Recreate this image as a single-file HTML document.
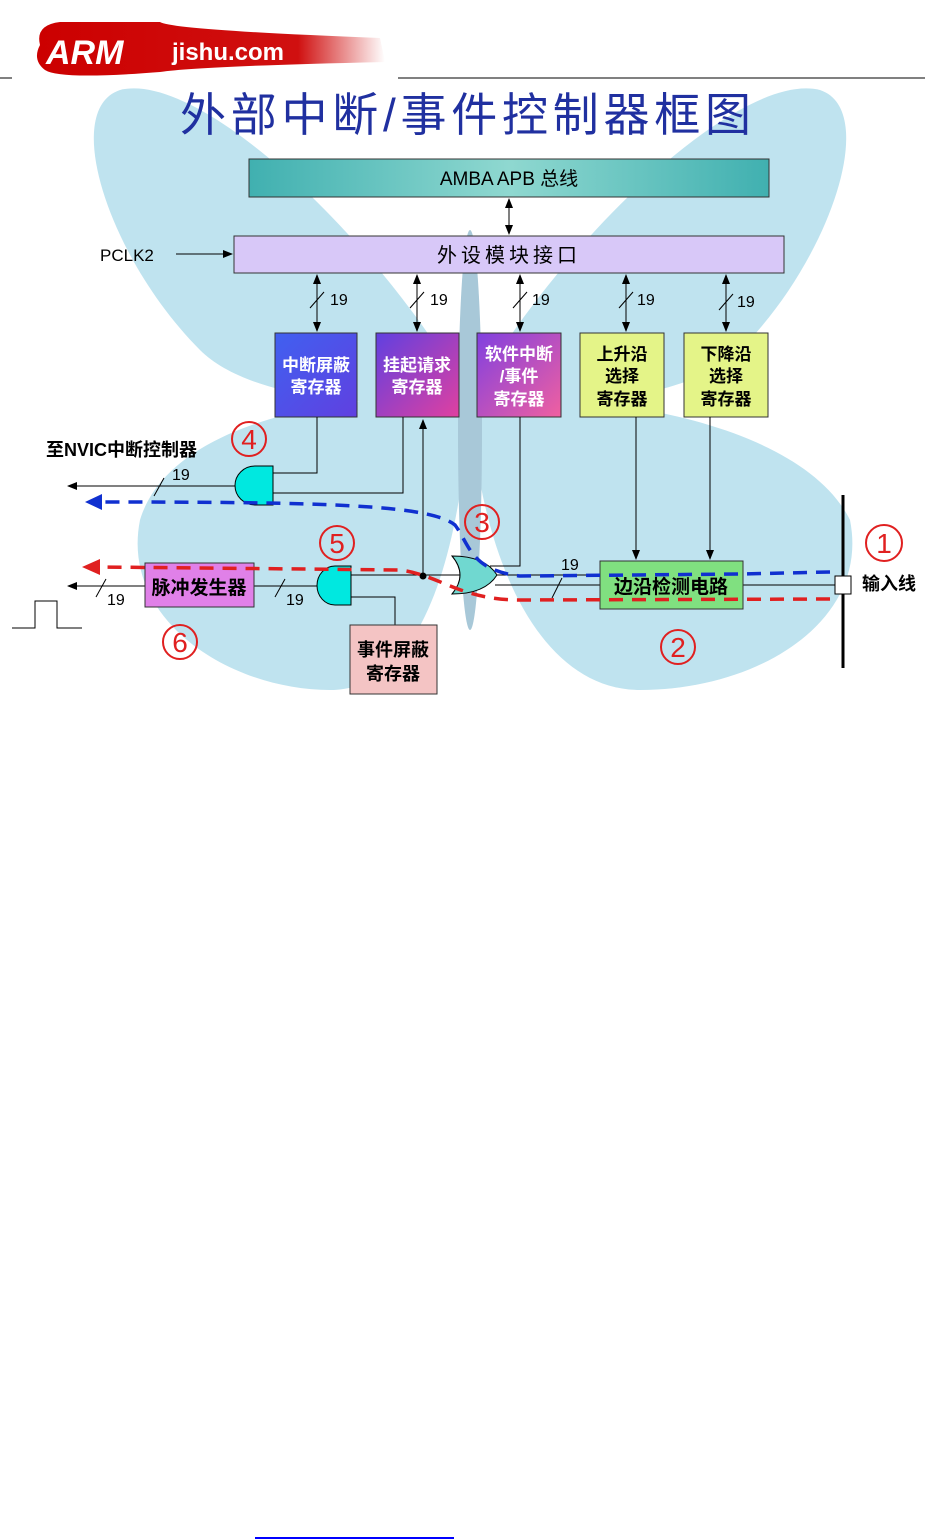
<!DOCTYPE html>
<html><head><meta charset="utf-8"><style>
body{margin:0;width:925px;height:1540px;background:#fff;position:relative;overflow:hidden}
svg text{font-family:"Liberation Sans","Noto Sans CJK SC",sans-serif}
</style></head><body>
<svg width="925" height="1540" xmlns="http://www.w3.org/2000/svg" style="position:absolute;left:0;top:0">
<defs>
<linearGradient id="amba" x1="0" x2="1"><stop offset="0" stop-color="#40b0b0"/><stop offset=".5" stop-color="#8fd8d0"/><stop offset="1" stop-color="#40b0b0"/></linearGradient>
<linearGradient id="r1" x1="0" y1="0" x2="1" y2="1"><stop offset="0" stop-color="#4060f0"/><stop offset="1" stop-color="#6040e0"/></linearGradient>
<linearGradient id="r2" x1="0" y1="0" x2="1" y2="1"><stop offset="0" stop-color="#6040e0"/><stop offset="1" stop-color="#e040a0"/></linearGradient>
<linearGradient id="r3" x1="0" y1="0" x2="1" y2="1"><stop offset="0" stop-color="#8040e0"/><stop offset="1" stop-color="#f060a0"/></linearGradient>
<linearGradient id="logo" x1="0" x2="1"><stop offset="0" stop-color="#c00"/><stop offset=".75" stop-color="#d01010"/><stop offset="1" stop-color="#fff"/></linearGradient>
<marker id="ah" markerWidth="10" markerHeight="8" refX="9" refY="4" orient="auto" markerUnits="userSpaceOnUse"><path d="M0,0 L10,4 L0,8 z" fill="#000"/></marker>
<marker id="ah2" markerWidth="10" markerHeight="8" refX="9" refY="4" orient="auto-start-reverse" markerUnits="userSpaceOnUse"><path d="M0,0 L10,4 L0,8 z" fill="#000"/></marker>
</defs>
<!-- logo -->
<path d="M40,45 Q35,25 60,22 L160,22 Q172,30 380,38 L385,62 Q200,66 160,72 Q60,80 45,70 Q32,60 40,45z" fill="url(#logo)"/>
<text x="46" y="64" font-size="34" font-weight="bold" font-style="italic" fill="#fff" font-family="Liberation Serif,serif">ARM</text>
<text x="172" y="60" font-size="24" font-weight="bold" fill="#fff" font-family="Liberation Serif,serif">jishu.com</text>
<line x1="0" y1="78" x2="12" y2="78" stroke="#000" stroke-width="1"/>
<line x1="398" y1="78" x2="925" y2="78" stroke="#000" stroke-width="1"/>
<!-- butterfly -->
<g fill="#bfe3ef">
<path d="M470,400 C380,240 200,70 120,90 C60,110 110,260 200,350 C250,400 380,410 470,400z"/>
<path d="M470,400 C560,240 740,70 820,90 C880,110 830,260 740,350 C690,400 560,410 470,400z"/>
<path d="M470,400 C350,390 170,420 140,520 C120,620 230,690 330,690 C420,690 460,560 470,400z"/>
<path d="M470,400 C590,390 800,420 850,520 C870,620 760,690 640,690 C540,690 480,560 470,400z"/>
</g>
<ellipse cx="470" cy="430" rx="12" ry="200" fill="#a8c8d8"/>
<text x="180" y="131" font-size="46" fill="#2030a0" letter-spacing="6" textLength="577" font-family="Liberation Sans,'Noto Sans CJK SC',sans-serif">外部中断/事件控制器框图</text>
<!-- AMBA -->
<rect x="249" y="159" width="520" height="38" fill="url(#amba)" stroke="#333"/>
<text x="509" y="185" font-size="19" text-anchor="middle">AMBA APB 总线</text>
<line x1="509" y1="199" x2="509" y2="234" stroke="#000" marker-end="url(#ah)" marker-start="url(#ah2)"/>
<rect x="234" y="236" width="550" height="37" fill="#d8c8f8" stroke="#333"/>
<text x="509" y="262" font-size="20" text-anchor="middle" letter-spacing="4">外设模块接口</text>
<text x="100" y="261" font-size="17">PCLK2</text>
<line x1="176" y1="254" x2="232" y2="254" stroke="#000" marker-end="url(#ah)"/>
<g stroke="#000" fill="none">
<line x1="317" y1="275" x2="317" y2="331" marker-end="url(#ah)" marker-start="url(#ah2)"/>
<line x1="417" y1="275" x2="417" y2="331" marker-end="url(#ah)" marker-start="url(#ah2)"/>
<line x1="520" y1="275" x2="520" y2="331" marker-end="url(#ah)" marker-start="url(#ah2)"/>
<line x1="626" y1="275" x2="626" y2="331" marker-end="url(#ah)" marker-start="url(#ah2)"/>
<line x1="726" y1="275" x2="726" y2="331" marker-end="url(#ah)" marker-start="url(#ah2)"/>
<line x1="310" y1="308" x2="324" y2="292"/><line x1="410" y1="308" x2="424" y2="292"/><line x1="513" y1="308" x2="527" y2="292"/><line x1="619" y1="308" x2="633" y2="292"/><line x1="719" y1="310" x2="733" y2="294"/>
</g>
<g font-size="16"><text x="330" y="305">19</text><text x="430" y="305">19</text><text x="532" y="305">19</text><text x="637" y="305">19</text><text x="737" y="307">19</text></g>
<rect x="275" y="333" width="82" height="84" fill="url(#r1)" stroke="#333"/>
<rect x="376" y="333" width="83" height="84" fill="url(#r2)" stroke="#333"/>
<rect x="477" y="333" width="84" height="84" fill="url(#r3)" stroke="#333"/>
<rect x="580" y="333" width="84" height="84" fill="#e4f488" stroke="#333"/>
<rect x="684" y="333" width="84" height="84" fill="#e4f488" stroke="#333"/>
<g font-size="17" text-anchor="middle" font-weight="bold">
<text x="316" y="371" fill="#fff">中断屏蔽</text><text x="316" y="393" fill="#fff">寄存器</text>
<text x="417" y="371" fill="#fff">挂起请求</text><text x="417" y="393" fill="#fff">寄存器</text>
<text x="519" y="360" fill="#fff">软件中断</text><text x="519" y="382" fill="#fff">/事件</text><text x="519" y="405" fill="#fff">寄存器</text>
<text x="622" y="360">上升沿</text><text x="622" y="382">选择</text><text x="622" y="405">寄存器</text>
<text x="726" y="360">下降沿</text><text x="726" y="382">选择</text><text x="726" y="405">寄存器</text>
</g>
<g stroke="#000" fill="none">
<polyline points="317,417 317,473 273,473"/>
<polyline points="403,417 403,493 273,493"/>
<line x1="423" y1="576" x2="423" y2="420" marker-end="url(#ah)"/>
<polyline points="520,417 520,566 490,566"/>
<line x1="636" y1="417" x2="636" y2="559" marker-end="url(#ah)"/>
<line x1="710" y1="417" x2="710" y2="559" marker-end="url(#ah)"/>
<line x1="235" y1="486" x2="68" y2="486" marker-end="url(#ah)"/>
<line x1="154" y1="496" x2="164" y2="478"/>
<line x1="495" y1="575" x2="600" y2="575"/><line x1="495" y1="585" x2="600" y2="585"/>
<line x1="552" y1="598" x2="562" y2="578"/>
<line x1="743" y1="585" x2="835" y2="585"/>
<line x1="351" y1="575" x2="460" y2="575"/>
<polyline points="351,597 395,597 395,625"/>
<line x1="319" y1="586" x2="254" y2="586"/>
<line x1="145" y1="586" x2="68" y2="586" marker-end="url(#ah)"/>
<line x1="96" y1="597" x2="106" y2="579"/><line x1="275" y1="597" x2="285" y2="579"/>
<polyline points="12,628 35,628 35,601 57,601 57,628 82,628"/>
</g>
<circle cx="423" cy="576" r="3.5" fill="#000"/>
<line x1="843" y1="495" x2="843" y2="668" stroke="#000" stroke-width="3"/>
<rect x="835" y="576" width="16" height="18" fill="#fff" stroke="#000"/>
<path d="M273,466 L255,466 A20,19.5 0 0 0 255,505 L273,505 Z" fill="#00e8e0" stroke="#000"/>
<path d="M351,566 L335,566 A18,19.5 0 0 0 335,605 L351,605 Z" fill="#00e8e0" stroke="#000"/>
<path d="M452,556 Q468,575 452,594 Q485,594 497,575 Q485,556 452,556z" fill="#70d8d0" stroke="#000"/>
<rect x="600" y="561" width="143" height="48" fill="#80e080" stroke="#333"/>
<text x="671" y="593" font-size="19" font-weight="bold" text-anchor="middle">边沿检测电路</text>
<rect x="145" y="563" width="109" height="44" fill="#e080e8" stroke="#333"/>
<text x="199" y="594" font-size="19" font-weight="bold" text-anchor="middle">脉冲发生器</text>
<rect x="350" y="625" width="87" height="69" fill="#f4c4c4" stroke="#333"/>
<text x="393" y="656" font-size="18" font-weight="bold" text-anchor="middle">事件屏蔽</text>
<text x="393" y="680" font-size="18" font-weight="bold" text-anchor="middle">寄存器</text>
<path d="M830,572 L740,574 L520,576 C470,570 470,545 455,525 C430,505 330,502 105,502" fill="none" stroke="#1030d0" stroke-width="3.5" stroke-dasharray="14,9"/>
<path d="M85,502 L102,494 L102,510z" fill="#1030d0"/>
<path d="M830,599 L520,600 C460,600 440,575 400,570 L100,567" fill="none" stroke="#e02020" stroke-width="3.5" stroke-dasharray="14,9"/>
<path d="M82,567 L100,559 L100,575z" fill="#e02020"/>
<text x="46" y="456" font-size="18" font-weight="bold">至NVIC中断控制器</text>
<g font-size="16"><text x="172" y="480">19</text><text x="561" y="570">19</text><text x="107" y="605">19</text><text x="286" y="605">19</text></g>
<text x="862" y="590" font-size="18" font-weight="bold">输入线</text>
<g fill="none" stroke="#e02020" stroke-width="2">
<circle cx="249" cy="439" r="17"/><circle cx="482" cy="522" r="17"/><circle cx="884" cy="543" r="18"/>
<circle cx="337" cy="543" r="17"/><circle cx="678" cy="647" r="17"/><circle cx="180" cy="642" r="17"/>
</g>
<g font-size="28" fill="#e02020" text-anchor="middle" font-family="Liberation Serif,serif">
<text x="249" y="449">4</text><text x="482" y="532">3</text><text x="884" y="553">1</text>
<text x="337" y="553">5</text><text x="678" y="657">2</text><text x="180" y="652">6</text>
</g>
<rect x="255" y="1537" width="199" height="2" fill="#0000ff"/>
</svg>
</body></html>
